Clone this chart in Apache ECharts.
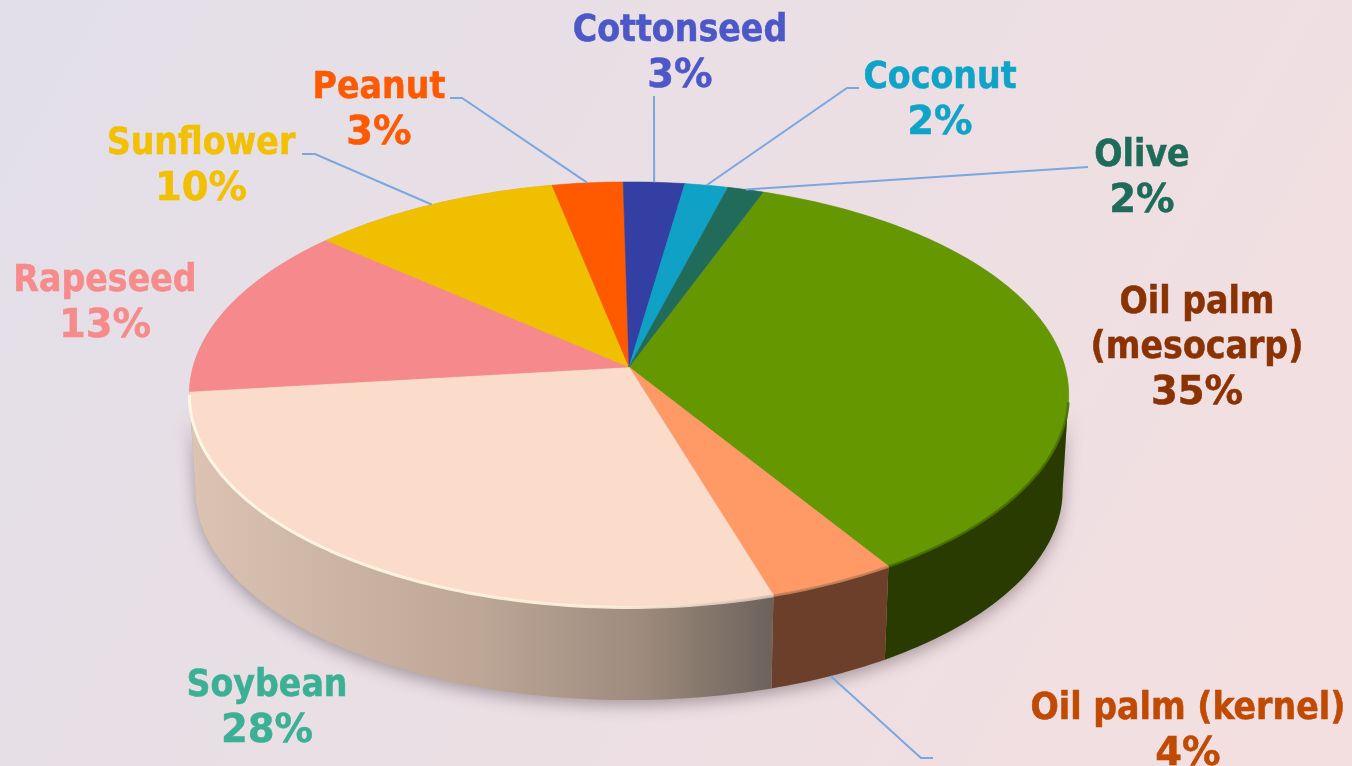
<!DOCTYPE html>
<html><head><meta charset="utf-8">
<style>html,body{margin:0;padding:0}#c{width:1352px;height:766px}</style>
<script src="https://cdn.jsdelivr.net/npm/echarts@6/dist/echarts.min.js"></script>
</head><body><div id="c"></div>
<script>
const crops = ['Oil palm (mesocarp)','Oil palm (kernel)','Soybean','Rapeseed','Sunflower','Peanut','Cottonseed','Coconut','Olive'];
const shares = [35.5,4.2,27.85,13.25,10.4,2.95,2.55,1.8,1.5];
const shownPercents = ['35%','4%','28%','13%','10%','3%','3%','2%','2%'];
const sliceColors = ['#659700','#ff9a66','#fbdbca','#f6898b','#f0bf00','#ff5a00','#333fa3','#0fa1c6','#216b5b'];
const wallColors = ['#2a3b00','#6b3f2a','#c0a898','#a05a5c','#a08000','#a03800','#20286a','#0a6880','#14443a'];
const rimColors = ['#4a7000','#c9825a','#fff9e6',null,null,null,null,null,null];
const textColors = ['#8b3300','#c04a00','#3cb095','#f78b8b','#f2c000','#ff5a00','#4c57c8','#10a3c8','#1f6b5a'];
const labelLines = [['Oil palm','(mesocarp)'],['Oil palm (kernel)'],['Soybean'],['Rapeseed'],['Sunflower'],['Peanut'],['Cottonseed'],['Coconut'],['Olive']];
const labelCenters = [[1197,300],[1188,706],[267,683],[105,278],[201,141],[379,85],[680,28],[940,75],[1142,153]];
const leaderElbows = [null,[[921,758],[933,758]],null,null,[[315,154],[302,154]],[[462,98],[450,98]],[[654,96]],[[847,88],[859,88]],[[1088,167]]];

const START = 20.2, LINE = 45.5;
const NAME_FONT = '"DejaVu Sans Condensed","DejaVu Sans",sans-serif', NUM_FONT = '"DejaVu Sans",sans-serif';
const K = 0.129;
const TOP = {cx:629, cy:367, a:209, b:436}, BASE = {cx:629, cy:463, a:206.5, b:430};
const total = shares.reduce((p,v)=>p+v,0);
const bounds = [START];
shares.forEach(v=>bounds.push(bounds[bounds.length-1]+v/total*360));
function proj(e,deg){
  const t=deg*Math.PI/180, c=Math.sin(t), s=-Math.cos(t), d=1-K*s;
  return [e.cx+e.b*c/d, e.cy+e.a*s/d];
}
function arc(e,from,to){
  const n=Math.max(2,Math.ceil(Math.abs(to-from))), pts=[];
  for(let i=0;i<=n;i++) pts.push(proj(e,from+(to-from)*i/n));
  return pts;
}
const WL=97.4, WR=262.6;
function renderBase(){
  return {type:'polygon',silent:true,shape:{points:arc(TOP,0,360)},style:{fill:'#b0a4ac'}};
}
function renderShadow(){
  return {type:'polygon',silent:true,
    shape:{points:arc(TOP,WL,WR).concat(arc(BASE,WR,WL))},
    style:{fill:'#b8a8a8',shadowBlur:16,shadowColor:'rgba(70,55,65,0.42)',shadowOffsetY:5,shadowOffsetX:0}};
}
function renderWall(params){
  const i=params.dataIndex, a=Math.max(bounds[i],WL), b=Math.min(bounds[i+1],WR);
  if(b<=a) return null;
  let fill=wallColors[i];
  if(i===2) fill={type:'linear',x:0,y:0,x2:1,y2:0,colorStops:[
    {offset:0,color:'#dcc3b4'},{offset:.5,color:'#bda696'},{offset:.78,color:'#9c8a7c'},{offset:1,color:'#6c625b'}]};
  return {type:'polygon',silent:true,shape:{points:arc(TOP,a,b).concat(arc(BASE,b,a))},style:{fill,stroke:null}};
}
function renderTop(params){
  const i=params.dataIndex;
  const el=[{type:'polygon',silent:true,shape:{points:[[TOP.cx,TOP.cy]].concat(arc(TOP,bounds[i],bounds[i+1]))},
    style:{fill:sliceColors[i],stroke:sliceColors[i],lineWidth:.5}}];
  if(rimColors[i]){
    const pts=arc(TOP,Math.max(bounds[i],WL+2),Math.min(bounds[i+1],WR)).map(p=>[p[0],p[1]+.5]);
    let stroke=rimColors[i];
    if(i===2) stroke={type:'linear',x:0,y:0,x2:1,y2:0,colorStops:[{offset:0,color:'#fffbe8'},{offset:.72,color:'#fff3dc'},{offset:1,color:'#d8c4b4'}]};
    el.push({type:'polyline',silent:true,shape:{points:pts},style:{stroke,fill:null,lineWidth:i===2?3:2.5,opacity:.9}});
  }
  return {type:'group',children:el};
}
function renderLabel(params){
  const i=params.dataIndex, [x,y]=labelCenters[i];
  const names=labelLines[i];
  const mk=(t,j,font,size)=>({type:'text',silent:true,style:{text:t,x,y:y+3+j*LINE,fill:textColors[i],
    fontSize:size,fontWeight:'bold',fontFamily:font,textAlign:'center',textVerticalAlign:'middle',
    stroke:textColors[i],lineWidth:.5}});
  const ch=names.map((t,j)=>mk(t,j,NAME_FONT,37));
  ch.push(mk(shownPercents[i],names.length,NUM_FONT,38.5));
  if(leaderElbows[i]){
    const mid=(bounds[i]+bounds[i+1])/2;
    const start=proj(i===1?BASE:TOP,mid);
    ch.push({type:'polyline',silent:true,shape:{points:[start].concat(leaderElbows[i])},style:{stroke:'#7ba7e0',lineWidth:2,fill:null}});
  }
  return {type:'group',children:ch};
}
const rows=crops.map((n,i)=>({name:n,value:shares[i]}));
const chart=echarts.init(document.getElementById('c'),null,{renderer:'canvas'});
chart.setOption({
  animation:false,
  backgroundColor:new echarts.graphic.LinearGradient(0,0,1,1,[{offset:0,color:'#e2dfe8'},{offset:1,color:'#f4dfe0'}]),
  tooltip:{show:false},
  series:[
    {type:'custom',coordinateSystem:'none',z:1,data:[rows[0]],renderItem:renderShadow},
    {type:'custom',coordinateSystem:'none',z:2,data:rows,renderItem:renderWall},
    {type:'custom',coordinateSystem:'none',z:3,data:[rows[0]],renderItem:renderBase},
    {type:'custom',coordinateSystem:'none',z:4,data:rows,renderItem:renderTop},
    {type:'custom',coordinateSystem:'none',z:5,data:rows,renderItem:renderLabel}
  ]
});
</script></body></html>
